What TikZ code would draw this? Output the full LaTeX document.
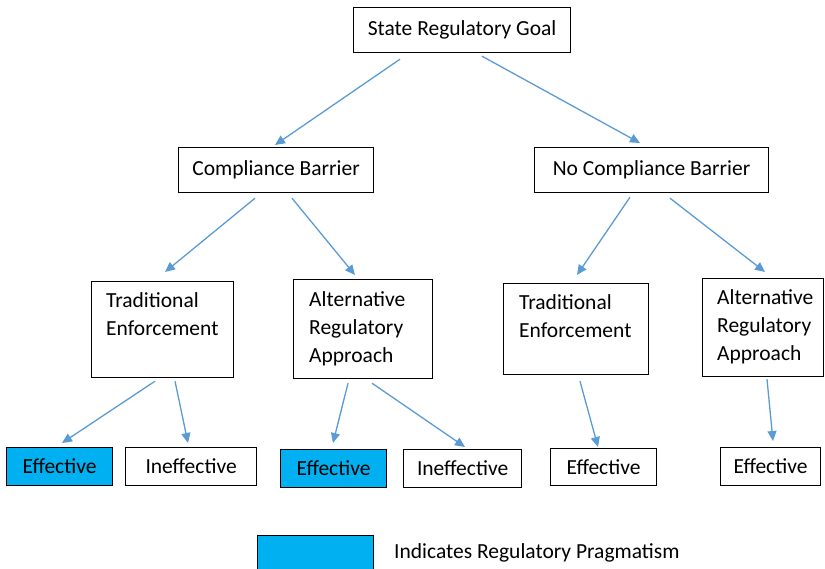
\documentclass[tikz,border=0pt]{standalone}
\usepackage{fontspec}
\setmainfont{Carlito}
\usetikzlibrary{arrows.meta}
\definecolor{linkblue}{HTML}{5B9BD5}
\definecolor{pragblue}{HTML}{00B0F0}
\tikzset{
  box/.style={draw=black, line width=1.2pt, fill=white, anchor=north west,
    inner sep=0pt, font=\fontsize{21.5}{28}\selectfont},
  prag/.style={box, fill=pragblue},
  lines/.style={anchor=north west, inner sep=0pt, align=left,
    font=\fontsize{21.5}{28}\selectfont},
  link/.style={draw=linkblue, line width=1.3pt,
    -{Triangle[length=10pt,width=9pt]}},
}
\begin{document}
\begin{tikzpicture}[x=1pt,y=-1pt]
\useasboundingbox (0,0) rectangle (825,568);

% level 0
\node[box, minimum width=217pt, minimum height=45pt] (goal) at (353,7) {State Regulatory Goal};

% level 1
\node[box, minimum width=195pt, minimum height=45pt] (comp) at (178,147) {Compliance Barrier};
\node[box, minimum width=234pt, minimum height=45pt] (nocomp) at (534,147) {No Compliance Barrier};

% level 2
\node[box, minimum width=142pt, minimum height=96pt] (tradL) at (91,281) {};
\node[box, minimum width=139pt, minimum height=99pt] (altL) at (293,279) {};
\node[box, minimum width=145pt, minimum height=91pt] (tradR) at (503,283) {};
\node[box, minimum width=121pt, minimum height=98pt] (altR) at (702,278) {};
\node[lines] (tradLtxt) at (106,292) {Traditional\\Enforcement};
\node[lines] (altLtxt) at (309,291) {Alternative\\Regulatory\\Approach};
\node[lines] (tradRtxt) at (519,294) {Traditional\\Enforcement};
\node[lines] (altRtxt) at (717,289) {Alternative\\Regulatory\\Approach};

% outcomes
\node[prag, minimum width=106pt, minimum height=38pt] (eff1) at (6,447) {Effective};
\node[box, minimum width=131pt, minimum height=38pt] (ineff1) at (125,447) {Ineffective};
\node[prag, minimum width=106pt, minimum height=38pt] (eff2) at (280,449) {Effective};
\node[box, minimum width=118pt, minimum height=38pt] (ineff2) at (403,449) {Ineffective};
\node[box, minimum width=106pt, minimum height=37pt] (eff3) at (550,448) {Effective};
\node[box, minimum width=100pt, minimum height=38pt] (eff4) at (720,447) {Effective};

% legend
\node[prag, minimum width=116pt, minimum height=40pt] (key) at (257,535) {};
\node[anchor=base west, inner sep=0pt, font=\fontsize{21.5}{24}\selectfont] (keytxt) at (394,558) {Indicates Regulatory Pragmatism};

% connectors
\draw[link] ([shift={(47,6)}]goal.south west) -- ([shift={(97,-2)}]comp.north west);
\draw[link] ([shift={(129,3)}]goal.south west) -- ([shift={(106,-4)}]nocomp.north west);
\draw[link] ([shift={(77,5)}]comp.south west) -- ([shift={(74,-9)}]tradL.north west);
\draw[link] ([shift={(114,5)}]comp.south west) -- ([shift={(62,-4)}]altL.north west);
\draw[link] ([shift={(96,4)}]nocomp.south west) -- ([shift={(74,-8)}]tradR.north west);
\draw[link] ([shift={(136,5)}]nocomp.south west) -- ([shift={(63,-6)}]altR.north west);
\draw[link] ([shift={(64,3)}]tradL.south west) -- ([shift={(56,-4)}]eff1.north west);
\draw[link] ([shift={(84,3)}]tradL.south west) -- ([shift={(63,-4)}]ineff1.north west);
\draw[link] ([shift={(55,4)}]altL.south west) -- ([shift={(53,-6)}]eff2.north west);
\draw[link] ([shift={(79,4)}]altL.south west) -- ([shift={(62,-2)}]ineff2.north west);
\draw[link] ([shift={(77,6)}]tradR.south west) -- ([shift={(48,-1)}]eff3.north west);
\draw[link] ([shift={(65,2)}]altR.south west) -- ([shift={(53,-6)}]eff4.north west);
\end{tikzpicture}
\end{document}
